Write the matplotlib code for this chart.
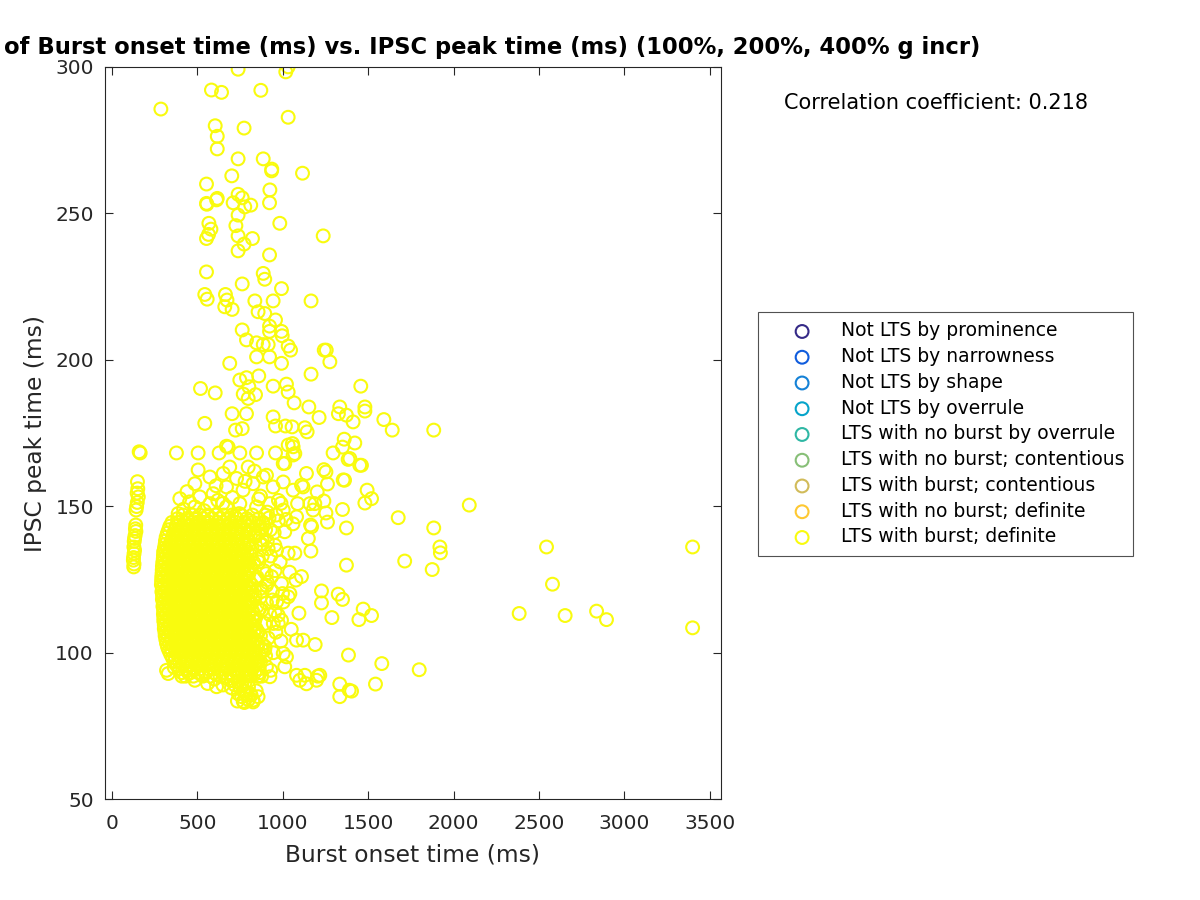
import matplotlib
matplotlib.use("Agg")
import matplotlib.pyplot as plt

# ---------------- data ----------------
categories = ["Not LTS by prominence", "Not LTS by narrowness", "Not LTS by shape",
              "Not LTS by overrule", "LTS with no burst by overrule",
              "LTS with no burst; contentious", "LTS with burst; contentious",
              "LTS with no burst; definite", "LTS with burst; definite"]
cat_colors = ["#352A87", "#0F5CDD", "#1481D6", "#06A4CA", "#2EB7A4",
              "#87BF77", "#D1BB59", "#FEC832", "#F9FB0E"]

# column of points near 150 ms
col_x = [160, 166, 150, 152, 155, 149, 145, 142, 140, 138, 141, 136, 133, 131, 129, 133, 130, 127, 126, 130, 128, 148]
col_y = [168.6, 168.2, 158.4, 156.0, 153.2, 151.3, 149.9, 148.7, 143.6, 142.3, 141.4, 140.0, 139.0, 138.0, 136.1,
         135.0, 133.8, 132.5, 131.6, 130.3, 129.3, 154.5]

# sparse upper points (IPSC > 175 ms)
top_x = [739, 1032, 1018, 583, 642, 872, 287, 1032, 605, 774, 617, 617, 739, 886, 936, 935, 1116, 702, 554, 925,
         739, 763, 617, 613, 554, 556, 710, 813, 778, 923, 739, 568, 580, 566, 554, 726, 983, 739, 823, 1237,
         774, 739, 923, 554, 886, 895, 763, 993, 544, 558, 665, 674, 661, 704, 837, 944, 1166, 856, 895, 958,
         923, 923, 993, 997, 763, 788, 847, 886, 915, 1032, 1046, 1243, 1255, 1276, 847, 923, 993, 690, 1166, 749,
         788, 860, 519, 605, 944, 1022, 1032, 1457, 769, 802, 798, 841, 1067, 1153, 1213, 1334, 1326, 1373, 1412, 1481,
         1481, 704, 788, 544, 724, 763, 944, 958, 1016, 1055, 1130, 1143, 1592, 1641, 1884]
top_y = [299.2, 300.0, 298.3, 292.1, 291.3, 292.0, 285.6, 282.8, 279.9, 279.1, 276.3, 272.0, 268.6, 268.6, 265.1, 264.5, 263.7, 262.8, 260.0, 258.0,
         256.5, 255.3, 255.1, 254.6, 253.4, 253.1, 253.6, 252.8, 252.2, 253.6, 249.4, 246.6, 244.6, 242.8, 241.4, 245.8, 246.6, 242.3, 241.4, 242.3,
         239.5, 237.2, 235.8, 230.0, 229.5, 227.5, 225.9, 224.3, 222.3, 220.7, 222.3, 220.4, 218.1, 217.2, 220.1, 220.1, 220.1, 216.4, 215.8, 213.6,
         211.5, 209.7, 209.7, 208.2, 210.2, 206.8, 205.8, 205.2, 205.2, 204.7, 203.3, 203.3, 203.3, 199.3, 201.0, 201.0, 198.8, 198.8, 195.1, 193.1,
         193.9, 194.5, 190.2, 188.7, 191.0, 191.7, 189.0, 191.0, 188.3, 190.8, 186.8, 188.1, 185.3, 183.9, 180.3, 183.9, 181.6, 181.1, 178.8, 183.9,
         182.5, 181.6, 181.6, 178.3, 176.0, 176.5, 180.5, 177.4, 177.4, 177.1, 176.8, 175.4, 179.6, 176.0, 176.0]

# medium band (140-175 ms) around and above the main cluster
mid_x = [1360, 1422, 1350, 1057, 671, 681, 1032, 1061, 1071, 1061, 378, 505, 628, 749, 847, 958, 1295, 1383, 1003, 1012,
         1461, 505, 798, 690, 1139, 1241, 1253, 1262, 1362, 486, 1110, 1119, 1494, 1520, 1481, 398, 388, 1087, 1159, 1178,
         1202, 1241, 1188, 1253, 1350, 1262, 1373, 1676, 1884, 2092, 1163, 1169,
         574, 652, 730, 905, 1003, 515, 593, 671, 768, 827, 886, 944, 1061, 486, 574, 671, 749, 847, 925, 1003,
         1081, 1354, 1393, 1451, 440, 620, 560, 805, 975, 1020, 870, 720,
         455, 540, 705, 780, 860, 910, 990, 420, 610, 650, 745, 835]
mid_y = [172.9, 171.6, 170.2, 171.4, 170.5, 170.2, 170.9, 170.3, 168.0, 167.5, 168.2, 168.2, 168.2, 168.2, 168.2, 168.2, 168.2, 166.0, 164.6, 164.6,
         164.0, 162.4, 163.4, 163.4, 161.2, 162.5, 161.7, 157.6, 158.9, 157.7, 157.2, 156.6, 155.5, 152.6, 151.1, 152.6, 147.5, 150.9, 150.9, 148.7,
         154.9, 151.8, 150.9, 147.7, 148.9, 144.6, 142.6, 146.1, 142.6, 150.4, 143.6, 143.0,
         160.0, 161.2, 159.5, 160.6, 158.3, 153.2, 154.3, 156.6, 155.5, 157.7, 160.0, 156.6, 155.5, 149.8, 150.9, 149.8, 150.9, 149.8, 150.9, 148.7,
         146.4, 159.0, 166.3, 164.0, 155.0, 152.0, 146.5, 145.0, 152.0, 145.5, 153.5, 146.5,
         151.5, 148.5, 153.0, 158.5, 152.5, 148.0, 151.0, 149.0, 157.0, 151.0, 147.5, 162.0]

# right side and far right points
right_x = [1920, 1923, 2544, 1165, 1373, 1714, 1875, 2579, 1227, 1227, 1325, 1350, 1471, 1520, 1446, 1288, 2384, 2653, 2837, 2895,
           1120, 1190, 1081, 1385, 1580, 1799, 1130, 1206, 1081, 1100, 1139, 1198, 1217, 1334, 1389, 1403, 1334, 1543, 3399, 3399,
           1032, 1071, 1012, 954, 964, 993, 1077, 999, 1003, 1032, 1042, 974, 993, 974, 1003, 1022, 1012, 925, 905,
           840, 870, 900, 860, 890, 930, 850, 880, 910, 940, 865, 895, 925, 850, 880, 915, 945, 870, 900, 930,
           860, 955, 985, 950, 975, 920, 960, 990, 955, 940, 880, 905, 1050, 1095, 1110, 1150, 1040, 1060,
           885, 915, 870, 935, 895, 965, 850, 905, 880, 945]
right_y = [136.1, 134.1, 136.1, 134.7, 129.9, 131.3, 128.4, 123.4, 121.1, 117.0, 120.0, 118.2, 114.9, 112.7, 111.3, 112.0, 113.4, 112.7, 114.2, 111.3,
           104.3, 102.8, 104.3, 99.2, 96.3, 94.2, 92.3, 92.0, 92.3, 90.6, 89.4, 90.6, 92.3, 89.3, 87.2, 86.9, 85.0, 89.3, 136.1, 108.5,
           134.0, 134.0, 141.3, 136.7, 135.0, 123.6, 124.8, 120.2, 117.3, 119.1, 120.2, 112.8, 111.1, 110.0, 99.8, 98.6, 95.2, 91.8, 95.2,
           140.0, 137.0, 142.0, 131.0, 128.0, 133.0, 125.0, 121.0, 124.0, 118.0, 115.0, 110.0, 113.0, 107.0, 103.0, 105.0, 100.0, 97.0, 99.0, 94.0,
           92.0, 128.0, 131.0, 141.0, 145.0, 146.0, 107.0, 104.0, 114.0, 121.0, 133.0, 117.0, 108.0, 113.5, 126.0, 139.0, 127.5, 144.0,
           144.0, 135.5, 119.0, 126.0, 101.0, 117.5, 96.5, 123.0, 138.5, 110.0]

# bottom spike and bottom-left points
low_x = [749, 788, 827, 856, 769, 827, 613, 486, 320, 330, 740, 760, 800, 770, 810, 780, 740, 720, 845, 800,
         760, 700, 650, 560, 680, 600, 735, 775, 815, 700, 530, 450, 410, 365]
low_y = [88.4, 86.0, 83.8, 85.0, 83.4, 83.2, 88.4, 90.6, 94.0, 92.9, 86.0, 85.0, 84.0, 87.0, 86.0, 90.0, 90.0, 89.0, 87.0, 88.5,
         89.0, 88.0, 89.0, 89.5, 91.0, 91.0, 83.5, 83.0, 85.5, 90.5, 92.5, 93.0, 92.0, 95.0]

# dense core: one IPSC value per row and the onset times found along it
core_row_y = [147.0, 145.8, 144.5, 143.2, 142.0, 140.8, 139.5, 138.2, 137.0, 135.8, 134.5, 133.2,
              132.0, 130.8, 129.5, 128.2, 127.0, 125.8, 124.5, 123.2, 122.0, 120.8, 119.5, 118.2,
              117.0, 115.8, 114.5, 113.2, 112.0, 110.8, 109.5, 108.2, 107.0, 105.8, 104.5, 103.2,
              102.0, 100.8, 99.5, 98.2, 97.0, 95.8, 94.5, 93.2, 92.0]
core_row_x = [
    [418, 472, 515, 563, 608, 655, 702, 757, 823, 898, 963],
    [385, 440, 490, 535, 585, 630, 680, 730, 790, 860],
    [352, 388, 428, 467, 498, 543, 572, 618, 647, 693, 728, 778, 827, 884],
    [340, 375, 412, 450, 485, 522, 560, 598, 635, 672, 710, 752, 795, 850],
    [333, 372, 402, 437, 478, 503, 547, 578, 623, 652, 694, 722, 772, 808, 872, 928],
    [325, 362, 395, 432, 468, 512, 540, 582, 612, 658, 688, 728, 760, 800, 860],
    [318, 357, 388, 428, 458, 497, 528, 567, 598, 643, 672, 713, 742, 788, 838],
    [314, 348, 372, 408, 442, 478, 512, 548, 582, 618, 656, 690, 727, 760, 800, 910],
    [312, 343, 383, 412, 453, 482, 523, 552, 593, 622, 663, 698, 738, 772, 803, 878],
    [308, 326, 362, 396, 428, 466, 496, 535, 568, 602, 636, 675, 710, 748, 780, 820],
    [303, 340, 370, 408, 437, 478, 507, 548, 577, 618, 647, 693, 722, 763, 792],
    [302, 320, 352, 388, 422, 455, 490, 525, 560, 595, 632, 665, 700, 735, 772, 815],
    [301, 332, 371, 398, 438, 467, 508, 537, 578, 607, 648, 677, 718, 747, 793, 852],
    [298, 316, 352, 382, 416, 450, 486, 520, 555, 590, 625, 660, 695, 730, 765, 800, 830],
    [296, 333, 359, 398, 427, 468, 497, 538, 567, 608, 637, 678, 707, 748, 777, 812],
    [295, 315, 345, 378, 410, 445, 480, 515, 550, 585, 620, 655, 690, 725, 760, 792],
    [294, 326, 363, 389, 428, 457, 498, 527, 568, 597, 638, 667, 708, 737, 778, 802, 903],
    [292, 310, 342, 375, 408, 442, 476, 510, 545, 582, 616, 652, 686, 722, 756, 790, 850],
    [291, 327, 355, 393, 419, 458, 487, 528, 557, 598, 627, 668, 697, 738, 767, 803],
    [290, 308, 340, 374, 406, 440, 472, 508, 542, 578, 612, 648, 682, 718, 752, 788, 818],
    [296, 325, 363, 390, 428, 455, 495, 524, 565, 594, 635, 664, 705, 734, 775, 802, 873],
    [293, 312, 344, 377, 410, 442, 476, 510, 545, 580, 614, 650, 684, 720, 754, 790, 822],
    [297, 333, 359, 398, 425, 465, 493, 533, 562, 603, 632, 673, 702, 743, 772, 813, 838],
    [296, 315, 346, 380, 412, 446, 480, 514, 548, 582, 618, 652, 688, 722, 758, 792, 826],
    [301, 330, 369, 397, 436, 464, 503, 532, 573, 602, 643, 672, 713, 742, 783, 812],
    [299, 318, 350, 384, 416, 450, 484, 518, 552, 588, 622, 656, 692, 728, 762, 798, 850],
    [303, 338, 365, 405, 433, 473, 501, 541, 569, 610, 639, 680, 709, 750, 779, 821, 878],
    [302, 320, 352, 386, 420, 454, 488, 522, 556, 590, 625, 660, 695, 730, 765, 800, 832],
    [304, 341, 369, 408, 437, 477, 505, 545, 573, 613, 642, 683, 712, 753, 782, 823, 842],
    [304, 322, 356, 390, 424, 458, 492, 526, 560, 595, 630, 665, 700, 735, 770, 805, 835],
    [307, 337, 377, 405, 445, 473, 513, 542, 583, 612, 653, 682, 723, 752, 793, 822],
    [307, 326, 360, 394, 428, 462, 496, 530, 565, 600, 635, 670, 705, 740, 775, 810, 845],
    [311, 347, 375, 415, 443, 483, 511, 551, 579, 620, 649, 690, 719, 760, 789, 831, 857],
    [312, 330, 364, 398, 432, 466, 500, 535, 570, 605, 640, 675, 710, 745, 780, 815, 870],
    [316, 347, 388, 417, 458, 487, 528, 557, 598, 627, 668, 697, 738, 767, 808, 837],
    [320, 340, 372, 406, 440, 474, 508, 542, 578, 612, 648, 682, 718, 752, 788, 822, 852],
    [326, 363, 392, 433, 462, 503, 532, 573, 602, 643, 672, 713, 742, 783, 812, 853, 897],
    [334, 352, 386, 420, 454, 488, 522, 556, 590, 625, 660, 695, 730, 765, 800, 835, 880],
    [344, 383, 412, 453, 482, 523, 552, 593, 622, 663, 692, 733, 762, 803, 832, 862],
    [355, 372, 404, 440, 474, 508, 542, 576, 610, 645, 680, 715, 750, 785, 820, 848],
    [366, 397, 438, 467, 508, 537, 578, 607, 648, 677, 718, 747, 788, 817, 858],
    [378, 418, 455, 492, 528, 562, 598, 632, 668, 702, 738, 772, 808, 840],
    [396, 437, 483, 517, 563, 597, 643, 677, 723, 752, 793, 822, 863],
    [410, 460, 505, 550, 598, 648, 692, 728, 765, 800, 835, 865],
    [431, 477, 533, 577, 633, 667, 713, 742, 783, 812, 853, 877],
]

corr_text = "Correlation coefficient: 0.218"
title_text = "Scatter plot of Burst onset time (ms) vs. IPSC peak time (ms) (100%, 200%, 400% g incr)"
x_label = "Burst onset time (ms)"
y_label = "IPSC peak time (ms)"
x_ticks = [0, 500, 1000, 1500, 2000, 2500, 3000, 3500]
y_ticks = [50, 100, 150, 200, 250, 300]

# ---------------- assemble burst-definite series ----------------
burst_x = col_x + top_x + mid_x + right_x + low_x
burst_y = col_y + top_y + mid_y + right_y + low_y
for yv, xs in zip(core_row_y, core_row_x):
    burst_x += xs
    burst_y += [yv] * len(xs)

# ---------------- plot ----------------
fig = plt.figure(figsize=(12, 9), dpi=100)
ax = fig.add_axes([0.0875, 0.112, 0.5133, 0.8137])

gray = "#262626"
marker_size = 85
for name, col in zip(categories, cat_colors):
    if name == "LTS with burst; definite":
        ax.scatter(burst_x, burst_y, s=marker_size, facecolors="none", edgecolors=col,
                   linewidths=1.5, label=name)
    else:
        ax.scatter([], [], s=marker_size, facecolors="none", edgecolors=col,
                   linewidths=1.5, label=name)

ax.set_xlim(-40, 3565)
ax.set_ylim(50, 300)
ax.set_xticks(x_ticks)
ax.set_yticks(y_ticks)
ax.tick_params(direction="in", top=True, right=True, length=6, width=0.8,
               labelsize=14.5, colors=gray, pad=8)
ax.tick_params(axis="x", pad=11)
for sp in ax.spines.values():
    sp.set_color(gray)
    sp.set_linewidth(0.8)
ax.set_xlabel(x_label, fontsize=16.8, color=gray, labelpad=7)
ax.set_ylabel(y_label, fontsize=16.8, color=gray, labelpad=6)
ax.set_title(title_text, fontsize=16.3, fontweight="bold", pad=9)

fig.text(0.78, 0.8856, corr_text, fontsize=15, ha="center", va="center")

leg = fig.legend(loc="upper left", bbox_to_anchor=(0.6317, 0.6533), fontsize=13.5,
                 frameon=True, fancybox=False, edgecolor=gray, borderpad=0.5,
                 labelspacing=0.36, handletextpad=0.2, borderaxespad=0, handlelength=3.7)
leg.get_frame().set_linewidth(0.8)

fig.savefig("out.png", dpi=100)
